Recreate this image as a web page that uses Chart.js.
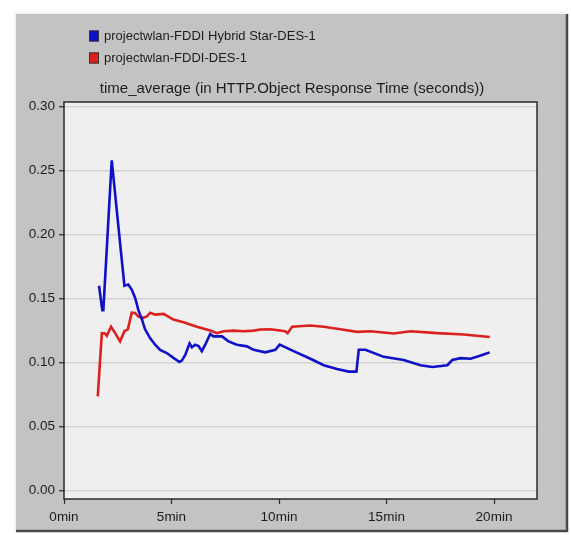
<!DOCTYPE html>
<html>
<head>
<meta charset="utf-8">
<script src="https://cdn.jsdelivr.net/npm/chart.js@4/dist/chart.umd.min.js"></script>
<style>
  html, body { margin: 0; padding: 0; background: #ffffff; }
  #wrap { width: 571px; height: 535px; position: relative; }
</style>
</head>
<body>
<div id="wrap"><canvas id="c" width="571" height="535"></canvas></div>
<script>
// ---- Data (minutes, seconds) ----
const seriesNames = ["projectwlan-FDDI Hybrid Star-DES-1", "projectwlan-FDDI-DES-1"];
const chartTitle = "time_average (in HTTP.Object Response Time (seconds))";
const yTickValues = [0.00, 0.05, 0.10, 0.15, 0.20, 0.25, 0.30];
const xTickValues = [0, 5, 10, 15, 20];

const hybridTime = [1.63, 1.78, 1.83, 2.22, 2.81, 2.99, 3.15, 3.31, 3.46, 3.62, 3.77, 4.01, 4.24, 4.47, 4.78, 5.09, 5.37, 5.48, 5.64, 5.84, 5.95, 6.10, 6.26, 6.41, 6.57, 6.80, 6.95, 7.35, 7.65, 8.04, 8.51, 8.82, 9.36, 9.83, 10.03, 10.68, 11.46, 12.08, 12.70, 13.24, 13.60, 13.71, 14.02, 14.87, 15.80, 16.58, 17.13, 17.83, 18.06, 18.44, 18.91, 19.38, 19.80];
const hybridValue = [0.160, 0.141, 0.141, 0.258, 0.160, 0.161, 0.157, 0.1505, 0.141, 0.134, 0.126, 0.119, 0.114, 0.110, 0.1075, 0.1037, 0.1005, 0.1016, 0.106, 0.115, 0.112, 0.114, 0.113, 0.109, 0.114, 0.1224, 0.1205, 0.1205, 0.1166, 0.114, 0.1127, 0.110, 0.108, 0.110, 0.114, 0.109, 0.103, 0.098, 0.095, 0.093, 0.093, 0.110, 0.110, 0.1045, 0.102, 0.098, 0.0966, 0.098, 0.102, 0.1035, 0.103, 0.1055, 0.108];

const fddiTime = [1.57, 1.76, 1.91, 1.99, 2.19, 2.38, 2.61, 2.81, 2.97, 3.15, 3.31, 3.46, 3.69, 3.85, 4.01, 4.24, 4.63, 5.09, 5.56, 6.18, 6.80, 7.11, 7.42, 7.89, 8.35, 8.82, 9.13, 9.59, 10.29, 10.40, 10.61, 11.46, 12.08, 12.86, 13.63, 14.25, 15.34, 16.12, 17.36, 18.60, 19.80];
const fddiValue = [0.0737, 0.123, 0.1227, 0.121, 0.128, 0.123, 0.1166, 0.1245, 0.126, 0.139, 0.1388, 0.136, 0.135, 0.136, 0.139, 0.1375, 0.138, 0.1336, 0.1315, 0.128, 0.125, 0.123, 0.1245, 0.125, 0.1245, 0.125, 0.1258, 0.126, 0.1245, 0.123, 0.128, 0.129, 0.128, 0.126, 0.124, 0.1245, 0.1227, 0.1245, 0.123, 0.122, 0.120];

const toPoints = (xs, ys) => xs.map((x, i) => ({ x: x, y: ys[i] }));

const FONT = "'Liberation Sans', Arial, sans-serif";
const TEXT = "#1c1c1c";

const decor = {
  id: 'decor',
  beforeDraw(chart) {
    const ctx = chart.ctx;
    const a = chart.chartArea;
    ctx.save();
    ctx.fillStyle = '#ffffff';
    ctx.fillRect(0, 0, chart.width, chart.height);
    // panel
    ctx.fillStyle = '#c3c3c3';
    ctx.fillRect(15, 14, 553, 518);
    // light top/left edges
    ctx.strokeStyle = '#f4f4f4';
    ctx.lineWidth = 2;
    ctx.beginPath();
    ctx.moveTo(15, 532); ctx.lineTo(15, 13); ctx.lineTo(568, 13);
    ctx.stroke();
    // dark right/bottom edges
    ctx.strokeStyle = '#4a4a4a';
    ctx.lineWidth = 2.5;
    ctx.beginPath();
    ctx.moveTo(567, 14); ctx.lineTo(567, 531); ctx.lineTo(16, 531);
    ctx.stroke();
    // plot background
    ctx.fillStyle = '#efefef';
    ctx.fillRect(a.left, a.top, a.right - a.left, a.bottom - a.top);
    ctx.restore();
  },
  afterDraw(chart) {
    const ctx = chart.ctx;
    const a = chart.chartArea;
    ctx.save();
    // frame
    ctx.strokeStyle = '#2a2a2a';
    ctx.lineWidth = 1.5;
    ctx.strokeRect(a.left, a.top, a.right - a.left, a.bottom - a.top);
    // legend
    ctx.font = "13px " + FONT;
    ctx.textBaseline = 'middle';
    ctx.textAlign = 'left';
    chart.data.datasets.forEach((ds, i) => {
      const y = 36 + i * 22;
      ctx.fillStyle = ds.borderColor;
      ctx.fillRect(89, y - 5.5, 10, 11);
      ctx.strokeStyle = '#333333';
      ctx.lineWidth = 1;
      ctx.strokeRect(89.5, y - 5, 9, 10);
      ctx.fillStyle = TEXT;
      ctx.fillText(ds.label, 104, y);
    });
    // title
    ctx.font = "15px " + FONT;
    ctx.textAlign = 'center';
    ctx.fillText(chartTitle, 292, 89);
    ctx.restore();
  }
};

new Chart(document.getElementById('c'), {
  type: 'line',
  data: {
    datasets: [
      {
        label: seriesNames[0],
        data: toPoints(hybridTime, hybridValue),
        borderColor: '#1010c8',
        backgroundColor: '#1010c8',
        borderWidth: 2.6,
        pointRadius: 0,
        tension: 0
      },
      {
        label: seriesNames[1],
        data: toPoints(fddiTime, fddiValue),
        borderColor: '#dc2020',
        backgroundColor: '#dc2020',
        borderWidth: 2.6,
        pointRadius: 0,
        tension: 0
      }
    ]
  },
  options: {
    responsive: false,
    animation: false,
    devicePixelRatio: 1,
    layout: { padding: { left: 0, right: 34, top: 102, bottom: 0 } },
    plugins: {
      legend: { display: false },
      title: { display: false },
      tooltip: { enabled: false }
    },
    scales: {
      x: {
        type: 'linear',
        min: 0,
        max: 22,
        afterBuildTicks(scale) { scale.ticks = xTickValues.map(v => ({ value: v })); },
        afterFit(scale) { scale.height = 36; },
        border: { display: false },
        grid: { drawOnChartArea: false, drawTicks: true, tickLength: 5, tickColor: '#2a2a2a', tickWidth: 1.2 },
        ticks: {
          color: TEXT,
          font: { family: FONT, size: 13.5 },
          padding: 5,
          maxRotation: 0,
          callback: v => v + 'min'
        }
      },
      y: {
        type: 'linear',
        min: -0.0065,
        max: 0.3035,
        afterBuildTicks(scale) { scale.ticks = yTickValues.map(v => ({ value: v })); },
        afterFit(scale) { scale.width = 64; },
        border: { display: false },
        grid: { drawOnChartArea: true, color: '#d2d2d2', lineWidth: 1.5, drawTicks: true, tickLength: 5, tickColor: '#2a2a2a', tickWidth: 1.2 },
        ticks: {
          color: TEXT,
          font: { family: FONT, size: 13.5 },
          padding: 4,
          callback: v => v.toFixed(2)
        }
      }
    }
  },
  plugins: [decor]
});
</script>
</body>
</html>
